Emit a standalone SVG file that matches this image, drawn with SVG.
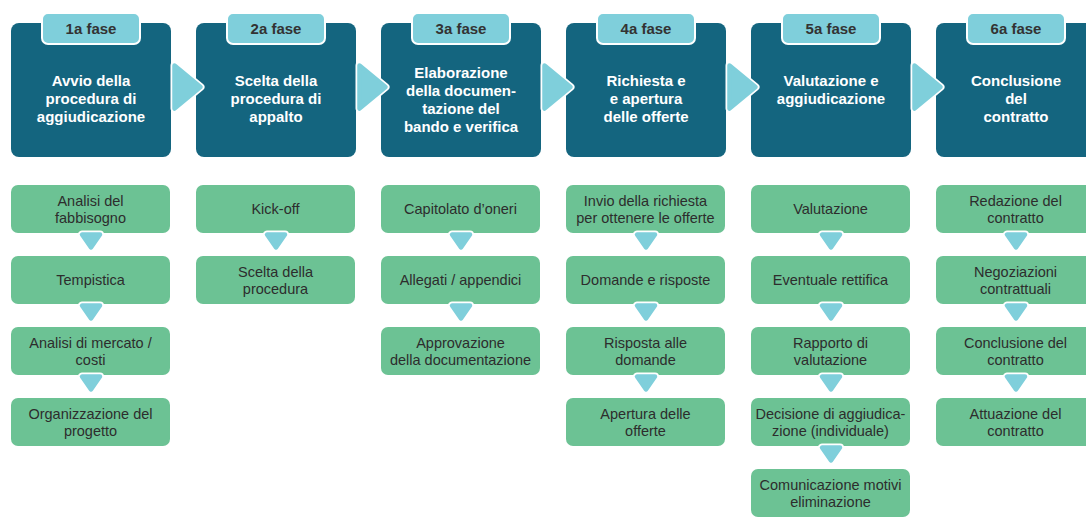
<svg xmlns="http://www.w3.org/2000/svg" xmlns:xlink="http://www.w3.org/1999/xlink" width="1086" height="520" viewBox="0 0 1086 520">
  <style>
    .phase { fill: #14657F; }
    .tab { fill: #7FCFDB; stroke: #FFFFFF; stroke-width: 2; }
    .tabtxt { font-family: "Liberation Sans", Arial, sans-serif; font-weight: 700; font-size: 15px; fill: #333333; text-anchor: middle; }
    .title { font-family: "Liberation Sans", Arial, sans-serif; font-weight: 700; font-size: 15px; fill: #FFFFFF; text-anchor: middle; }
    .step { fill: #6CC294; }
    .steptxt { font-family: "Liberation Sans", Arial, sans-serif; font-size: 14.5px; fill: #2D2D2D; text-anchor: middle; }
    .halo { fill: #FFFFFF; stroke: #FFFFFF; stroke-width: 8; stroke-linejoin: round; }
    .arrow { fill: #7FCFDB; stroke: #7FCFDB; stroke-width: 4.5; stroke-linejoin: round; }
  </style>
  <defs>
    <!-- right-pointing chevron between phases -->
    <polygon id="chev" points="174.5,65.5 200.5,87 174.5,108.5"/>
    <!-- downward triangle between steps -->
    <polygon id="down" points="82,234.5 100,234.5 91,247.5"/>
  </defs>
  <rect width="1086" height="520" fill="#FFFFFF"/>

  <!-- phase headers -->
  <g id="phase1">
    <rect class="phase" x="11" y="23" width="160" height="134" rx="8"/>
    <rect class="tab" x="42" y="13" width="98" height="31" rx="6"/>
    <text class="tabtxt" x="91" y="34">1a fase</text>
    <text class="title" x="91" y="86">Avvio della</text>
    <text class="title" x="91" y="104">procedura di</text>
    <text class="title" x="91" y="122">aggiudicazione</text>
  </g>
  <g id="phase2">
    <rect class="phase" x="196" y="23" width="160" height="134" rx="8"/>
    <rect class="tab" x="227" y="13" width="98" height="31" rx="6"/>
    <text class="tabtxt" x="276" y="34">2a fase</text>
    <text class="title" x="276" y="86">Scelta della</text>
    <text class="title" x="276" y="104">procedura di</text>
    <text class="title" x="276" y="122">appalto</text>
  </g>
  <g id="phase3">
    <rect class="phase" x="381" y="23" width="160" height="134" rx="8"/>
    <rect class="tab" x="412" y="13" width="98" height="31" rx="6"/>
    <text class="tabtxt" x="461" y="34">3a fase</text>
    <text class="title" x="461" y="78">Elaborazione</text>
    <text class="title" x="461" y="96">della documen-</text>
    <text class="title" x="461" y="114">tazione del</text>
    <text class="title" x="461" y="132">bando e verifica</text>
  </g>
  <g id="phase4">
    <rect class="phase" x="566" y="23" width="160" height="134" rx="8"/>
    <rect class="tab" x="597" y="13" width="98" height="31" rx="6"/>
    <text class="tabtxt" x="646" y="34">4a fase</text>
    <text class="title" x="646" y="86">Richiesta e</text>
    <text class="title" x="646" y="104">e apertura</text>
    <text class="title" x="646" y="122">delle offerte</text>
  </g>
  <g id="phase5">
    <rect class="phase" x="751" y="23" width="160" height="134" rx="8"/>
    <rect class="tab" x="782" y="13" width="98" height="31" rx="6"/>
    <text class="tabtxt" x="831" y="34">5a fase</text>
    <text class="title" x="831" y="86">Valutazione e</text>
    <text class="title" x="831" y="104">aggiudicazione</text>
  </g>
  <g id="phase6">
    <rect class="phase" x="936" y="23" width="160" height="134" rx="8"/>
    <rect class="tab" x="967" y="13" width="98" height="31" rx="6"/>
    <text class="tabtxt" x="1016" y="34">6a fase</text>
    <text class="title" x="1016" y="86">Conclusione</text>
    <text class="title" x="1016" y="104">del</text>
    <text class="title" x="1016" y="122">contratto</text>
  </g>

  <!-- steps: phase 1 -->
  <g id="s1-1"><rect class="step" x="11" y="185" width="159" height="48" rx="7"/>
    <text class="steptxt" x="90.5" y="205.5">Analisi del</text><text class="steptxt" x="90.5" y="222.5">fabbisogno</text></g>
  <g id="s1-2"><rect class="step" x="11" y="256" width="159" height="48" rx="7"/>
    <text class="steptxt" x="90.5" y="285">Tempistica</text></g>
  <g id="s1-3"><rect class="step" x="11" y="327" width="159" height="48" rx="7"/>
    <text class="steptxt" x="90.5" y="347.5">Analisi di mercato /</text><text class="steptxt" x="90.5" y="364.5">costi</text></g>
  <g id="s1-4"><rect class="step" x="11" y="398" width="159" height="48" rx="7"/>
    <text class="steptxt" x="90.5" y="418.5">Organizzazione del</text><text class="steptxt" x="90.5" y="435.5">progetto</text></g>

  <!-- steps: phase 2 -->
  <g id="s2-1"><rect class="step" x="196" y="185" width="159" height="48" rx="7"/>
    <text class="steptxt" x="275.5" y="214">Kick-off</text></g>
  <g id="s2-2"><rect class="step" x="196" y="256" width="159" height="48" rx="7"/>
    <text class="steptxt" x="275.5" y="276.5">Scelta della</text><text class="steptxt" x="275.5" y="293.5">procedura</text></g>

  <!-- steps: phase 3 -->
  <g id="s3-1"><rect class="step" x="381" y="185" width="159" height="48" rx="7"/>
    <text class="steptxt" x="460.5" y="214">Capitolato d’oneri</text></g>
  <g id="s3-2"><rect class="step" x="381" y="256" width="159" height="48" rx="7"/>
    <text class="steptxt" x="460.5" y="285">Allegati / appendici</text></g>
  <g id="s3-3"><rect class="step" x="381" y="327" width="159" height="48" rx="7"/>
    <text class="steptxt" x="460.5" y="347.5">Approvazione</text><text class="steptxt" x="460.5" y="364.5">della documentazione</text></g>

  <!-- steps: phase 4 -->
  <g id="s4-1"><rect class="step" x="566" y="185" width="159" height="48" rx="7"/>
    <text class="steptxt" x="645.5" y="205.5">Invio della richiesta</text><text class="steptxt" x="645.5" y="222.5">per ottenere le offerte</text></g>
  <g id="s4-2"><rect class="step" x="566" y="256" width="159" height="48" rx="7"/>
    <text class="steptxt" x="645.5" y="285">Domande e risposte</text></g>
  <g id="s4-3"><rect class="step" x="566" y="327" width="159" height="48" rx="7"/>
    <text class="steptxt" x="645.5" y="347.5">Risposta alle</text><text class="steptxt" x="645.5" y="364.5">domande</text></g>
  <g id="s4-4"><rect class="step" x="566" y="398" width="159" height="48" rx="7"/>
    <text class="steptxt" x="645.5" y="418.5">Apertura delle</text><text class="steptxt" x="645.5" y="435.5">offerte</text></g>

  <!-- steps: phase 5 -->
  <g id="s5-1"><rect class="step" x="751" y="185" width="159" height="48" rx="7"/>
    <text class="steptxt" x="830.5" y="214">Valutazione</text></g>
  <g id="s5-2"><rect class="step" x="751" y="256" width="159" height="48" rx="7"/>
    <text class="steptxt" x="830.5" y="285">Eventuale rettifica</text></g>
  <g id="s5-3"><rect class="step" x="751" y="327" width="159" height="48" rx="7"/>
    <text class="steptxt" x="830.5" y="347.5">Rapporto di</text><text class="steptxt" x="830.5" y="364.5">valutazione</text></g>
  <g id="s5-4"><rect class="step" x="751" y="398" width="159" height="48" rx="7"/>
    <text class="steptxt" x="830.5" y="418.5">Decisione di aggiudica-</text><text class="steptxt" x="830.5" y="435.5">zione (individuale)</text></g>
  <g id="s5-5"><rect class="step" x="751" y="469" width="159" height="48" rx="7"/>
    <text class="steptxt" x="830.5" y="489.5">Comunicazione motivi</text><text class="steptxt" x="830.5" y="506.5">eliminazione</text></g>

  <!-- steps: phase 6 -->
  <g id="s6-1"><rect class="step" x="936" y="185" width="159" height="48" rx="7"/>
    <text class="steptxt" x="1015.5" y="205.5">Redazione del</text><text class="steptxt" x="1015.5" y="222.5">contratto</text></g>
  <g id="s6-2"><rect class="step" x="936" y="256" width="159" height="48" rx="7"/>
    <text class="steptxt" x="1015.5" y="276.5">Negoziazioni</text><text class="steptxt" x="1015.5" y="293.5">contrattuali</text></g>
  <g id="s6-3"><rect class="step" x="936" y="327" width="159" height="48" rx="7"/>
    <text class="steptxt" x="1015.5" y="347.5">Conclusione del</text><text class="steptxt" x="1015.5" y="364.5">contratto</text></g>
  <g id="s6-4"><rect class="step" x="936" y="398" width="159" height="48" rx="7"/>
    <text class="steptxt" x="1015.5" y="418.5">Attuazione del</text><text class="steptxt" x="1015.5" y="435.5">contratto</text></g>

  <!-- connectors -->
  <g id="connectors">
    <!-- chevrons between phases -->
    <g id="chevrons">
      <use xlink:href="#chev" class="halo"/><use xlink:href="#chev" class="arrow"/>
      <use xlink:href="#chev" class="halo" x="185"/><use xlink:href="#chev" class="arrow" x="185"/>
      <use xlink:href="#chev" class="halo" x="370"/><use xlink:href="#chev" class="arrow" x="370"/>
      <use xlink:href="#chev" class="halo" x="555"/><use xlink:href="#chev" class="arrow" x="555"/>
      <use xlink:href="#chev" class="halo" x="740"/><use xlink:href="#chev" class="arrow" x="740"/>
    </g>
    <!-- triangles between steps -->
    <g id="downs">
      <use xlink:href="#down" class="halo" x="0" y="0"/><use xlink:href="#down" class="arrow" x="0" y="0"/>
      <use xlink:href="#down" class="halo" x="0" y="71"/><use xlink:href="#down" class="arrow" x="0" y="71"/>
      <use xlink:href="#down" class="halo" x="0" y="142"/><use xlink:href="#down" class="arrow" x="0" y="142"/>

      <use xlink:href="#down" class="halo" x="185" y="0"/><use xlink:href="#down" class="arrow" x="185" y="0"/>

      <use xlink:href="#down" class="halo" x="370" y="0"/><use xlink:href="#down" class="arrow" x="370" y="0"/>
      <use xlink:href="#down" class="halo" x="370" y="71"/><use xlink:href="#down" class="arrow" x="370" y="71"/>

      <use xlink:href="#down" class="halo" x="555" y="0"/><use xlink:href="#down" class="arrow" x="555" y="0"/>
      <use xlink:href="#down" class="halo" x="555" y="71"/><use xlink:href="#down" class="arrow" x="555" y="71"/>
      <use xlink:href="#down" class="halo" x="555" y="142"/><use xlink:href="#down" class="arrow" x="555" y="142"/>

      <use xlink:href="#down" class="halo" x="740" y="0"/><use xlink:href="#down" class="arrow" x="740" y="0"/>
      <use xlink:href="#down" class="halo" x="740" y="71"/><use xlink:href="#down" class="arrow" x="740" y="71"/>
      <use xlink:href="#down" class="halo" x="740" y="142"/><use xlink:href="#down" class="arrow" x="740" y="142"/>
      <use xlink:href="#down" class="halo" x="740" y="213"/><use xlink:href="#down" class="arrow" x="740" y="213"/>

      <use xlink:href="#down" class="halo" x="925" y="0"/><use xlink:href="#down" class="arrow" x="925" y="0"/>
      <use xlink:href="#down" class="halo" x="925" y="71"/><use xlink:href="#down" class="arrow" x="925" y="71"/>
      <use xlink:href="#down" class="halo" x="925" y="142"/><use xlink:href="#down" class="arrow" x="925" y="142"/>
    </g>
  </g>
</svg>
